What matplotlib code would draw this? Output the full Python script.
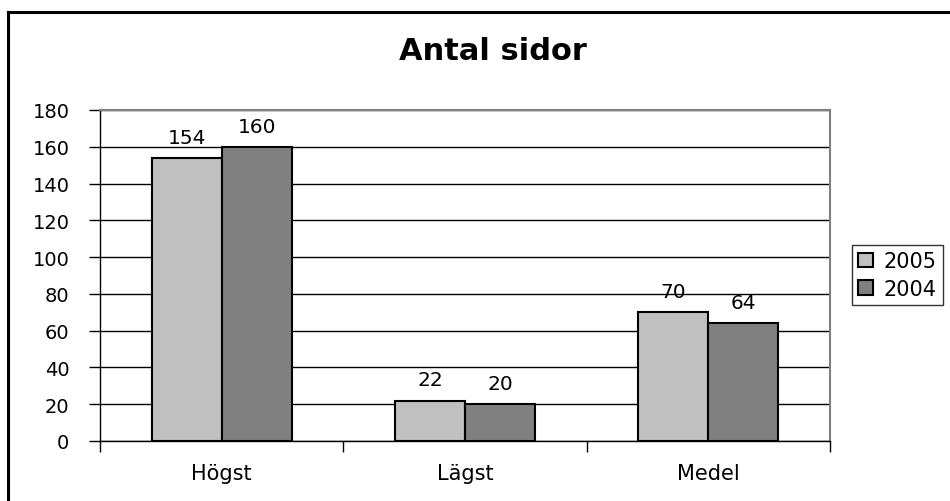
import matplotlib.pyplot as plt
import numpy as np
from matplotlib.lines import Line2D

categories = ['Högst', 'Lägst', 'Medel']
years = ['2005', '2004']
values_2005 = [154, 22, 70]
values_2004 = [160, 20, 64]
colors = ['#C0C0C0', '#808080']

plt.rcParams['font.family'] = ['DejaVu Sans']

fig = plt.figure(figsize=(9.5, 5.02), dpi=100)
ax = fig.add_axes([100 / 950, 60 / 502, 730 / 950, 331 / 502])

x = np.arange(len(categories))
w = 0.288
b1 = ax.bar(x - w / 2, values_2005, w, color=colors[0], edgecolor='black', linewidth=1.5,
            label=years[0], zorder=3)
b2 = ax.bar(x + w / 2, values_2004, w, color=colors[1], edgecolor='black', linewidth=1.5,
            label=years[1], zorder=3)
for bars in (b1, b2):
    ax.bar_label(bars, padding=8, fontsize=14.5)

ax.set_xlim(-0.5, 2.5)
ax.set_ylim(0, 180)
ax.set_yticks(range(0, 181, 20))
ax.yaxis.grid(True, color='black', linewidth=1)
ax.set_axisbelow(True)

# category labels centred, ticks on the boundaries
ax.set_xticks(x)
ax.set_xticklabels(categories, fontsize=15)
ax.tick_params(axis='x', length=0, pad=16)
ax.set_xticks([-0.5, 0.5, 1.5, 2.5], minor=True)
ax.tick_params(axis='x', which='minor', length=8, width=1, direction='out')
ax.tick_params(axis='y', labelsize=14, length=8, width=1, direction='out', pad=14)

for s in ('top', 'right'):
    ax.spines[s].set_color('#808080')
    ax.spines[s].set_linewidth(1.5)
for s in ('left', 'bottom'):
    ax.spines[s].set_color('black')
    ax.spines[s].set_linewidth(1)

fig.text(493 / 950, 1 - 52 / 502, 'Antal sidor', ha='center', va='center',
         fontsize=22, fontweight='bold')

leg = ax.legend(loc='upper left', bbox_to_anchor=(852 / 950, 1 - 246 / 502),
                bbox_transform=fig.transFigure, fontsize=15, frameon=True,
                fancybox=False, handlelength=0.7, handleheight=0.7,
                handletextpad=0.5, borderpad=0.3, labelspacing=0.35,
                borderaxespad=0)
leg.get_frame().set_edgecolor('black')
leg.get_frame().set_linewidth(1)
for h in leg.legend_handles:
    h.set_linewidth(1.5)

# outer chart border (only left and top are visible)
fig.add_artist(Line2D([8 / 950, 8 / 950], [0, 1 - 13 / 502], transform=fig.transFigure,
                      color='black', linewidth=2.2))
fig.add_artist(Line2D([8 / 950, 1], [1 - 13 / 502, 1 - 13 / 502], transform=fig.transFigure,
                      color='black', linewidth=2.2))

fig.savefig('out.png', dpi=100)
